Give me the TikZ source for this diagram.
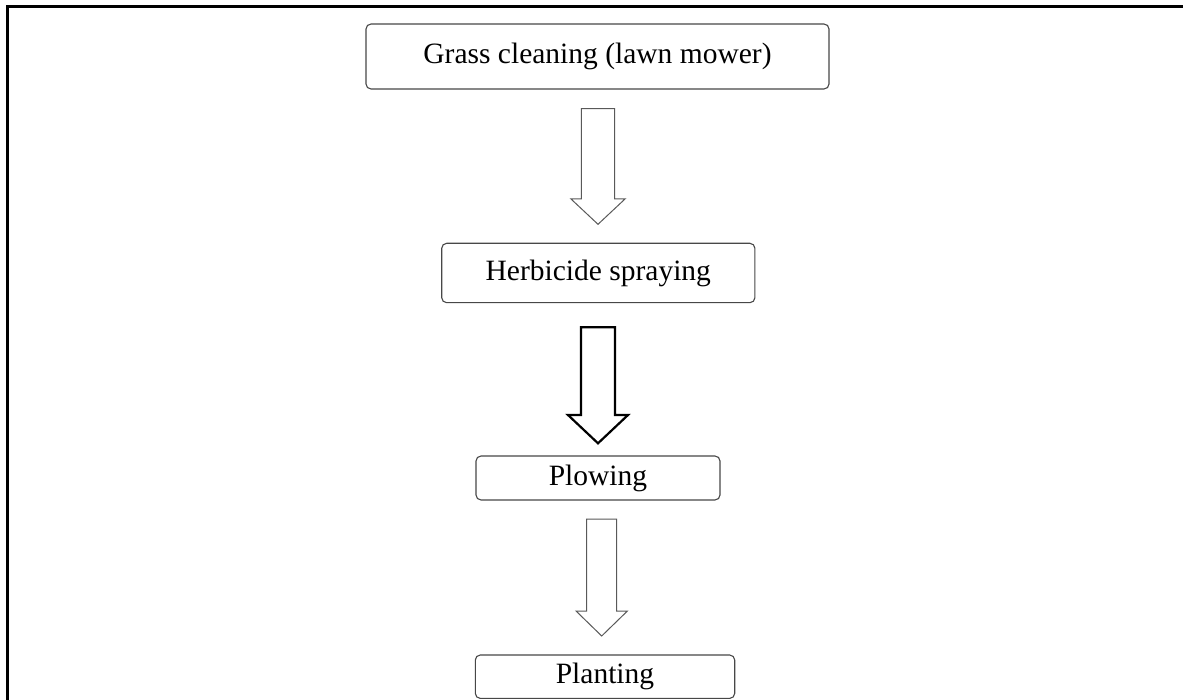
\documentclass[tikz,border=0pt]{standalone}
\usepackage{fontspec}
\setmainfont{Liberation Serif}
% block arrow: style, x centre, y top, y head base, y tip, half shaft width, half head width
\newcommand\blockarrow[7]{%
  \draw[#1] (#2-#6,#3) -- (#2+#6,#3) -- (#2+#6,#4) -- (#2+#7,#4) -- (#2,#5)
    -- (#2-#7,#4) -- (#2-#6,#4) -- cycle;}
\begin{document}
\begin{tikzpicture}[x=0.5pt,y=-0.5pt,
  stage/.style={draw=black!72, line width=0.55pt, rounded corners=2.5pt,
    fill=white, inner sep=0pt,
    font=\fontsize{14.75pt}{17pt}\selectfont},
  thinarrow/.style={draw=black!65, line width=0.5pt, fill=white, line join=miter},
  boldarrow/.style={draw=black, line width=1.1pt, fill=white, line join=miter}]
\useasboundingbox (0,0) rectangle (1183,700);
% frame
\draw[line width=1.3pt] (7.7,701) |- (1184,6.7);

% process steps
\node[stage, minimum width=231.5pt, minimum height=32.5pt] (mow) at (597.5,56.5)
  {Grass cleaning (lawn mower)};
\node[stage, minimum width=156.6pt, minimum height=29.7pt] (spray) at (598.3,273)
  {Herbicide spraying};
\node[stage, minimum width=122pt, minimum height=22pt] (plow) at (598,478)
  {Plowing};
\node[stage, minimum width=129.7pt, minimum height=21.7pt] (plant) at (605,676.7)
  {Planting};

% arrows between steps
\blockarrow{thinarrow}{598}{108.7}{199}{224.3}{16.7}{27}
\blockarrow{boldarrow}{598}{327.3}{415}{443.3}{17}{30}
\blockarrow{thinarrow}{601.7}{519}{611}{636}{15}{25.7}
\end{tikzpicture}
\end{document}
